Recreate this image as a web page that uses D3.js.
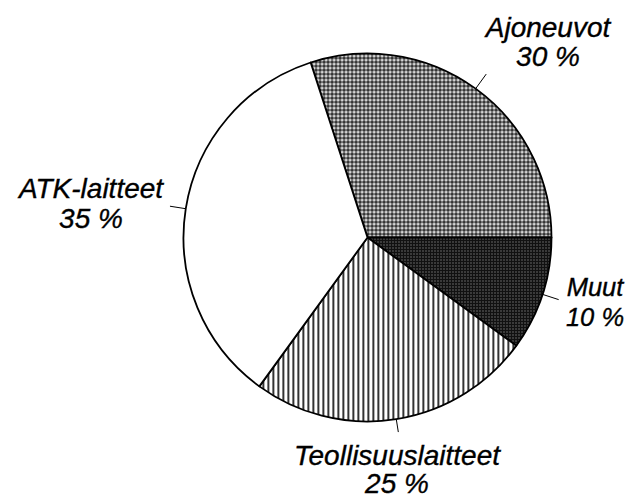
<!DOCTYPE html>
<html>
<head>
<meta charset="utf-8">
<script src="https://cdn.jsdelivr.net/npm/d3@7"></script>
<style>
  body { margin: 0; background: #fff; }
  text { font-family: "Liberation Sans", Arial, sans-serif; font-style: italic; fill: #000; stroke: #000; stroke-width: 0.35px; }
</style>
</head>
<body>
<div id="chart"></div>
<script>
// slice order is clockwise, starting at -18 degrees
const categories = ['Ajoneuvot', 'Muut', 'Teollisuuslaitteet', 'ATK-laitteet'];
const shares = [30, 10, 25, 35];
const patterns = ['grid', 'dark', 'vlines', 'none'];

const width = 629, height = 499;
const cx = 367.5, cy = 237.5, radius = 184;

const svg = d3.select('#chart').append('svg')
    .attr('width', width)
    .attr('height', height);

// fill patterns, imitating the printed screens
const defs = svg.append('defs');

const grid = defs.append('pattern')
    .attr('id', 'grid')
    .attr('patternUnits', 'userSpaceOnUse')
    .attr('width', 4).attr('height', 4);
grid.append('rect').attr('width', 4).attr('height', 4).attr('fill', '#fff');
grid.append('rect').attr('width', 4).attr('height', 1.1).attr('fill', '#000');
grid.append('rect').attr('width', 1.1).attr('height', 4).attr('fill', '#000');
grid.append('rect').attr('x', 2).attr('y', 2).attr('width', 0.8).attr('height', 0.8).attr('fill', '#000');

const dark = defs.append('pattern')
    .attr('id', 'dark')
    .attr('patternUnits', 'userSpaceOnUse')
    .attr('width', 3).attr('height', 3);
dark.append('rect').attr('width', 3).attr('height', 3).attr('fill', '#111');
dark.append('rect').attr('x', 1).attr('y', 1).attr('width', 0.9).attr('height', 0.9).attr('fill', '#ddd');

const vlines = defs.append('pattern')
    .attr('id', 'vlines')
    .attr('patternUnits', 'userSpaceOnUse')
    .attr('width', 5).attr('height', 5);
vlines.append('rect').attr('width', 5).attr('height', 5).attr('fill', '#fff');
vlines.append('rect').attr('width', 1.6).attr('height', 5).attr('fill', '#000');

const start = -18 * Math.PI / 180;
const pie = d3.pie()
    .sort(null)
    .value(d => d)
    .startAngle(start)
    .endAngle(start + 2 * Math.PI);

const arcs = pie(shares);
const arc = d3.arc().innerRadius(0).outerRadius(radius);

const g = svg.append('g')
    .attr('transform', `translate(${cx},${cy})`);

g.selectAll('path.slice')
    .data(arcs)
    .join('path')
    .attr('class', 'slice')
    .attr('d', arc)
    .attr('fill', (d, i) => patterns[i] === 'none' ? '#fff' : `url(#${patterns[i]})`)
    .attr('stroke', '#000')
    .attr('stroke-width', 1.8)
    .attr('stroke-linejoin', 'round');

// leader lines from the rim outward
const leaderLen = [18, 17, 13, 16];
const mid = d => (d.startAngle + d.endAngle) / 2;
g.selectAll('line.leader')
    .data(arcs)
    .join('line')
    .attr('class', 'leader')
    .attr('x1', d => Math.sin(mid(d)) * radius)
    .attr('y1', d => -Math.cos(mid(d)) * radius)
    .attr('x2', (d, i) => Math.sin(mid(d)) * (radius + leaderLen[i]))
    .attr('y2', (d, i) => -Math.cos(mid(d)) * (radius + leaderLen[i]))
    .attr('stroke', '#000')
    .attr('stroke-width', 1);

// label anchors: centre x, first baseline, second baseline, font size
const labelPos = [[548, 37, 66, 28], [595, 296, 326, 25.5], [397, 465, 493, 28], [91, 198, 228, 28]];

const labels = svg.selectAll('g.label')
    .data(categories)
    .join('g')
    .attr('class', 'label')
    .attr('transform', (d, i) => `translate(${labelPos[i][0]},0)`)
    .style('font-size', (d, i) => labelPos[i][3] + 'px');

labels.append('text')
    .attr('text-anchor', 'middle')
    .attr('y', (d, i) => labelPos[i][1])
    .text(d => d);

labels.append('text')
    .attr('text-anchor', 'middle')
    .attr('y', (d, i) => labelPos[i][2])
    .text((d, i) => `${shares[i]} %`);
</script>
</body>
</html>
